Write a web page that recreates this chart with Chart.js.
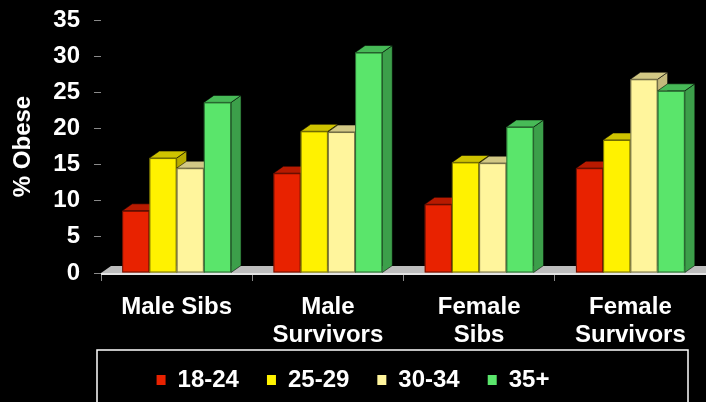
<!DOCTYPE html>
<html>
<head>
<meta charset="utf-8">
<script src="https://cdn.jsdelivr.net/npm/chart.js@4.4.1/dist/chart.umd.min.js"></script>
<style>
  html, body { margin: 0; padding: 0; background: #000; }
  #wrap { width: 706px; height: 402px; }
</style>
</head>
<body>
<div id="wrap"><canvas id="obeseChart"></canvas></div>
<script>
/* =========================
   DATA
========================= */

const categories = [["Male Sibs"], ["Male", "Survivors"], ["Female", "Sibs"], ["Female", "Survivors"]];
const ageGroups = ["18-24", "25-29", "30-34", "35+"];

const age18to24 = [8.6, 13.8, 9.5, 14.5];
const age25to29 = [15.9, 19.6, 15.3, 18.4];
const age30to34 = [14.5, 19.5, 15.2, 26.8];
const age35plus = [23.6, 30.5, 20.2, 25.2];

const yMax = 35;
const yStep = 5;

/* =========================
   STYLE
========================= */

const frontColors = ["#E82200", "#FFF200", "#FFF59C", "#5AE56B"];
const topColors = ["#B81A00", "#CFC300", "#D2C885", "#47BA57"];
const sideColors = ["#A01700", "#B8AD00", "#C4BA7C", "#3C9F4A"];

const DX = 10;   // 3D depth offsets
const DY = 7;

const FONT = "'Liberation Sans', Arial, sans-serif";

/* =========================
   3D BARS PLUGIN
========================= */

const bars3d = {
  id: "bars3d",
  afterLayout(chart) {
    // let the two-line category labels run into the legend band
    const x = chart.scales.x;
    x.bottom = x.top + 90;
  },
  beforeDatasetsDraw(chart) {
    const { ctx, chartArea } = chart;
    const base = chart.scales.y.getPixelForValue(0);

    ctx.save();

    // floor
    ctx.fillStyle = "#BDBDBD";
    ctx.beginPath();
    ctx.moveTo(chartArea.left, base);
    ctx.lineTo(chartArea.left + DX, base - DY);
    ctx.lineTo(chartArea.right + DX, base - DY);
    ctx.lineTo(chartArea.right, base);
    ctx.closePath();
    ctx.fill();
    ctx.fillStyle = "#E4E4E4";
    ctx.fillRect(chartArea.left, base, chartArea.right - chartArea.left, 2);

    ctx.lineWidth = 1;
    ctx.strokeStyle = "rgba(0,0,0,0.55)";

    chart.data.datasets.forEach((ds, i) => {
      chart.getDatasetMeta(i).data.forEach(bar => {
        const x0 = bar.x - bar.width / 2;
        const x1 = bar.x + bar.width / 2;
        const yt = bar.y;
        const yb = bar.base;

        // side
        ctx.fillStyle = sideColors[i];
        ctx.beginPath();
        ctx.moveTo(x1, yb);
        ctx.lineTo(x1 + DX, yb - DY);
        ctx.lineTo(x1 + DX, yt - DY);
        ctx.lineTo(x1, yt);
        ctx.closePath();
        ctx.fill();
        ctx.stroke();

        // top
        ctx.fillStyle = topColors[i];
        ctx.beginPath();
        ctx.moveTo(x0, yt);
        ctx.lineTo(x0 + DX, yt - DY);
        ctx.lineTo(x1 + DX, yt - DY);
        ctx.lineTo(x1, yt);
        ctx.closePath();
        ctx.fill();
        ctx.stroke();

        // front
        ctx.fillStyle = frontColors[i];
        ctx.fillRect(x0, yt, x1 - x0, yb - yt);
        ctx.strokeRect(x0 + 0.5, yt + 0.5, x1 - x0 - 1, yb - yt - 1);
      });
    });

    ctx.restore();
    return false;
  },
  afterDraw(chart) {
    // legend frame
    const { ctx } = chart;
    ctx.save();
    ctx.strokeStyle = "#FFFFFF";
    ctx.lineWidth = 1.5;
    ctx.strokeRect(97, 350, 591, 80);
    ctx.restore();
  }
};

/* =========================
   CHART
========================= */

const seriesValues = [age18to24, age25to29, age30to34, age35plus];

const ctx = document.getElementById("obeseChart").getContext("2d");

new Chart(ctx, {
  type: "bar",
  data: {
    labels: categories,
    datasets: ageGroups.map((name, i) => ({
      label: name,
      data: seriesValues[i],
      backgroundColor: frontColors[i],
      borderWidth: 0,
      categoryPercentage: 0.72,
      barPercentage: 1
    }))
  },
  options: {
    responsive: true,
    maintainAspectRatio: false,
    animation: false,
    layout: {
      padding: { top: 0, right: 0, bottom: 0, left: 0 }
    },
    plugins: {
      tooltip: { enabled: false },
      legend: {
        position: "bottom",
        labels: {
          color: "#FFFFFF",
          font: { family: FONT, size: 24, weight: "bold", lineHeight: 1.167 },
          boxWidth: 9,
          boxHeight: 10,
          padding: 28
        }
      }
    },
    scales: {
      x: {
        grid: {
          drawOnChartArea: false,
          drawTicks: true,
          tickLength: 8,
          color: "#8A8A8A"
        },
        border: { display: false },
        ticks: {
          color: "#FFFFFF",
          padding: 12,
          maxRotation: 0,
          autoSkip: false,
          font: { family: FONT, size: 24, weight: "bold", lineHeight: 1.167 }
        },
        afterFit(scale) {
          scale.height = 67;
        }
      },
      y: {
        min: 0,
        max: yMax,
        grid: {
          drawOnChartArea: false,
          drawTicks: true,
          tickLength: 7,
          color: "#8A8A8A"
        },
        border: { display: false },
        ticks: {
          stepSize: yStep,
          color: "#FFFFFF",
          padding: 14,
          font: { family: FONT, size: 24, weight: "bold", lineHeight: 0.5 }
        },
        title: {
          display: true,
          text: "% Obese",
          color: "#FFFFFF",
          padding: { top: 9, bottom: 0 },
          font: { family: FONT, size: 24, weight: "bold", lineHeight: 1.167 }
        },
        afterFit(scale) {
          scale.width = 101;
        }
      }
    }
  },
  plugins: [bars3d]
});
</script>
</body>
</html>
